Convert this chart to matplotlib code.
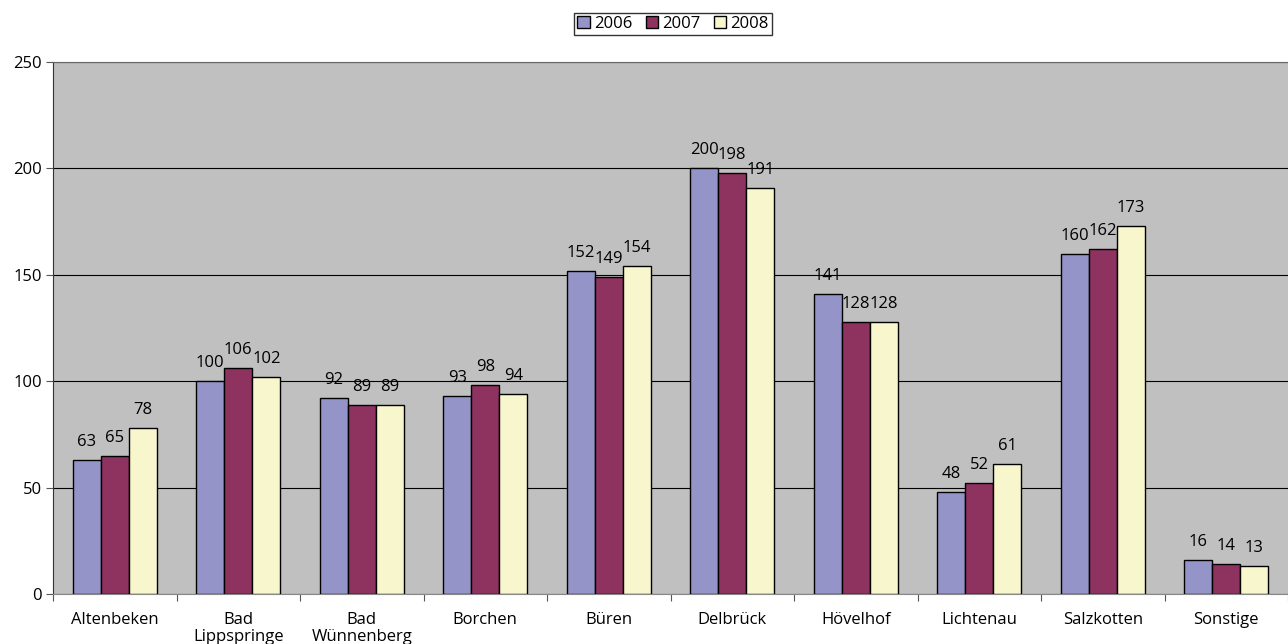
import matplotlib
matplotlib.use("Agg")
import matplotlib.pyplot as plt
import numpy as np

categories = ["Altenbeken", "Bad\nLippspringe", "Bad\nWünnenberg", "Borchen", "Büren",
              "Delbrück", "Hövelhof", "Lichtenau", "Salzkotten", "Sonstige"]
series_names = ["2006", "2007", "2008"]
v2006 = [63, 100, 92, 93, 152, 200, 141, 48, 160, 16]
v2007 = [65, 106, 89, 98, 149, 198, 128, 52, 162, 14]
v2008 = [78, 102, 89, 94, 154, 191, 128, 61, 173, 13]
colors = ["#9494C8", "#8E325F", "#F8F6CC"]
yticks = [0, 50, 100, 150, 200, 250]

plt.rcParams['font.family'] = ['Open Sans', 'DejaVu Sans']
FS = 12

fig = plt.figure(figsize=(12.88, 6.44), dpi=100)
ax = fig.add_axes([53/1288, 1-594/644, 1-53/1288, (594-62)/644])
ax.set_facecolor("#C0C0C0")

x = np.arange(len(categories))
w = 0.227
for i, (vals, c, name) in enumerate(zip([v2006, v2007, v2008], colors, series_names)):
    pos = x + (i-1)*w
    ax.bar(pos, vals, width=w, color=c, edgecolor="black", linewidth=1.0, label=name, zorder=3)
    for p, v in zip(pos, vals):
        ax.annotate(str(v), (p, v), xytext=(0, 18), textcoords="offset pixels",
                    ha="center", va="center", fontsize=FS, zorder=4)

ax.set_xlim(-0.5, len(categories)-0.5)
ax.set_ylim(0, 250)
ax.set_yticks(yticks)
ax.set_yticklabels([str(t) for t in yticks], fontsize=FS)
ax.yaxis.grid(True, color="black", linewidth=0.8, zorder=1)
ax.set_xticks(np.arange(len(categories)+1) - 0.5)
ax.set_xticklabels([])
ax.set_xticks(x, minor=True)
ax.set_xticklabels(categories, minor=True, fontsize=FS, linespacing=1.1)
ax.tick_params(axis="x", which="minor", length=0, pad=13)
ax.tick_params(axis="x", which="major", length=5, color="#555555", direction="out")
ax.tick_params(axis="y", length=5, color="#555555", direction="out", pad=3)
ax.spines["right"].set_visible(False)
ax.spines["top"].set_color("#666666")
ax.spines["left"].set_color("#333333")
ax.spines["bottom"].set_color("#888888")

leg = fig.legend(loc="center", bbox_to_anchor=(673/1288, 1-24/644), ncol=3, fontsize=FS,
                 frameon=True, fancybox=False, edgecolor="black", handlelength=0.75, handleheight=0.75,
                 handletextpad=0.25, columnspacing=0.8, borderpad=0.2)
leg.get_frame().set_linewidth(1.0)

fig.savefig("out.png", dpi=100)
